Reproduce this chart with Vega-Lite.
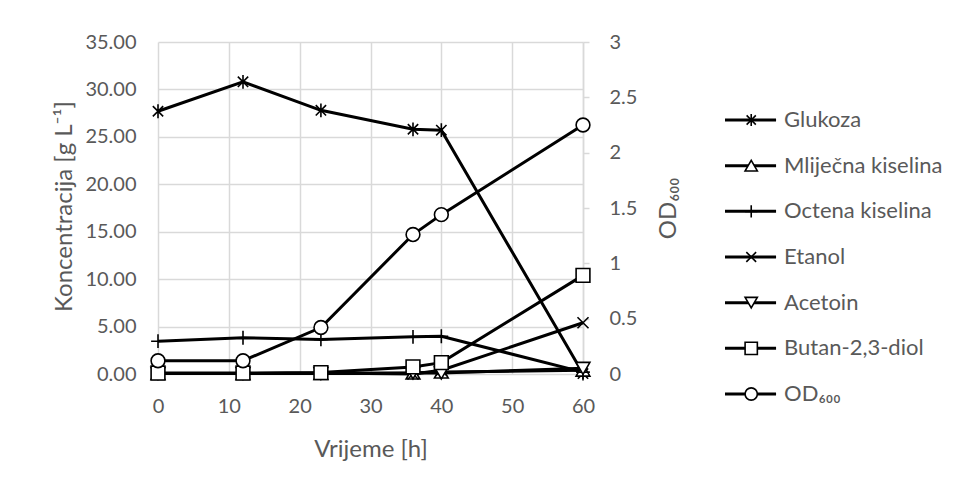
{
  "$schema": "https://vega.github.io/schema/vega-lite/v6.json",
  "background": "white",
  "padding": {"left": 52, "top": 32, "right": 5, "bottom": 5},
  "spacing": 42,
  "config": {
    "font": "Lato",
    "view": {"stroke": null},
    "axis": {"labelFontSize": 20, "labelColor": "#595959", "titleFontSize": 24, "titleFontWeight": "normal", "titleColor": "#595959", "gridColor": "#d9d9d9", "gridWidth": 1.5, "labelFont": "Lato", "titleFont": "Lato"}
  },
  "datasets": {
    "series": [
      {"t": 0, "series": "Glukoza", "value": 27.7},
      {"t": 12, "series": "Glukoza", "value": 30.8},
      {"t": 23, "series": "Glukoza", "value": 27.8},
      {"t": 36, "series": "Glukoza", "value": 25.8},
      {"t": 40, "series": "Glukoza", "value": 25.7},
      {"t": 60, "series": "Glukoza", "value": 0.05},
      {"t": 0, "series": "Mliječna kiselina", "value": 0.05},
      {"t": 12, "series": "Mliječna kiselina", "value": 0.05},
      {"t": 23, "series": "Mliječna kiselina", "value": 0.05},
      {"t": 36, "series": "Mliječna kiselina", "value": 0.1},
      {"t": 40, "series": "Mliječna kiselina", "value": 0.2},
      {"t": 60, "series": "Mliječna kiselina", "value": 0.4},
      {"t": 0, "series": "Octena kiselina", "value": 3.46},
      {"t": 12, "series": "Octena kiselina", "value": 3.82},
      {"t": 23, "series": "Octena kiselina", "value": 3.64},
      {"t": 36, "series": "Octena kiselina", "value": 3.92},
      {"t": 40, "series": "Octena kiselina", "value": 3.98},
      {"t": 60, "series": "Octena kiselina", "value": 0.2},
      {"t": 0, "series": "Etanol", "value": 0.05},
      {"t": 12, "series": "Etanol", "value": 0.05},
      {"t": 23, "series": "Etanol", "value": 0.1},
      {"t": 36, "series": "Etanol", "value": 0.0},
      {"t": 40, "series": "Etanol", "value": 0.4},
      {"t": 60, "series": "Etanol", "value": 5.4},
      {"t": 0, "series": "Acetoin", "value": 0.05},
      {"t": 12, "series": "Acetoin", "value": 0.05},
      {"t": 23, "series": "Acetoin", "value": 0.05},
      {"t": 36, "series": "Acetoin", "value": 0.1},
      {"t": 40, "series": "Acetoin", "value": 0.1},
      {"t": 60, "series": "Acetoin", "value": 0.6},
      {"t": 0, "series": "Butan-2,3-diol", "value": 0.1},
      {"t": 12, "series": "Butan-2,3-diol", "value": 0.1},
      {"t": 23, "series": "Butan-2,3-diol", "value": 0.15},
      {"t": 36, "series": "Butan-2,3-diol", "value": 0.75},
      {"t": 40, "series": "Butan-2,3-diol", "value": 1.2},
      {"t": 60, "series": "Butan-2,3-diol", "value": 10.4}
    ],
    "od": [
      {"t": 0, "series": "OD₆₀₀", "value": 0.12},
      {"t": 12, "series": "OD₆₀₀", "value": 0.12},
      {"t": 23, "series": "OD₆₀₀", "value": 0.42},
      {"t": 36, "series": "OD₆₀₀", "value": 1.26},
      {"t": 40, "series": "OD₆₀₀", "value": 1.44},
      {"t": 60, "series": "OD₆₀₀", "value": 2.25}
    ],
    "legend": [
      {"series": "Glukoza"},
      {"series": "Mliječna kiselina"},
      {"series": "Octena kiselina"},
      {"series": "Etanol"},
      {"series": "Acetoin"},
      {"series": "Butan-2,3-diol"},
      {"series": "OD₆₀₀"}
    ]
  },
  "hconcat": [
    {
      "width": 425,
      "height": 332,
      "layer": [
        {
          "data": {"name": "series"},
          "encoding": {
            "x": {"field": "t", "type": "quantitative", "scale": {"domain": [0, 60]}, "axis": {"values": [0, 10, 20, 30, 40, 50, 60], "title": "Vrijeme [h]", "domain": false, "ticks": false, "labelFlush": false, "labelPadding": 22, "titlePadding": 21}},
            "y": {"field": "value", "type": "quantitative", "scale": {"domain": [0, 35]}, "axis": {"values": [0, 5, 10, 15, 20, 25, 30, 35], "format": ".2f", "title": "Koncentracija [g L⁻¹]", "titleY": 164, "domain": false, "ticks": false, "labelPadding": 22, "titlePadding": 8}}
          },
          "layer": [
            {
              "mark": {"type": "line", "stroke": "black", "strokeWidth": 3},
              "encoding": {"detail": {"field": "series"}}
            },
            {
              "mark": {"type": "point", "filled": true, "fill": "white", "stroke": "black", "strokeWidth": 1.6, "size": 190, "opacity": 1},
              "encoding": {
                "shape": {"field": "series", "type": "nominal", "legend": null, "scale": {"domain": ["Glukoza", "Mliječna kiselina", "Octena kiselina", "Etanol", "Acetoin", "Butan-2,3-diol", "OD₆₀₀"], "range": ["M-0.75,-0.75L0.75,0.75M0.75,-0.75L-0.75,0.75M0,-1L0,1", "triangle-up", "M-1,0L1,0M0,-1L0,1", "M-0.8,-0.8L0.8,0.8M0.8,-0.8L-0.8,0.8", "triangle-down", "square", "circle"]}}
              }
            }
          ]
        },
        {
          "data": {"name": "od"},
          "encoding": {
            "x": {"field": "t", "type": "quantitative"},
            "y": {"field": "value", "type": "quantitative", "scale": {"domain": [0, 3]}, "axis": {"orient": "right", "values": [0, 0.5, 1, 1.5, 2, 2.5, 3], "format": "~g", "title": "OD₆₀₀", "titleAngle": 270, "grid": false, "domain": true, "domainColor": "#d9d9d9", "domainWidth": 1.5, "ticks": true, "tickColor": "#d9d9d9", "tickSize": 6, "tickWidth": 1.5, "labelPadding": 20, "titlePadding": 44}}
          },
          "layer": [
            {
              "mark": {"type": "line", "stroke": "black", "strokeWidth": 3}
            },
            {
              "mark": {"type": "point", "filled": true, "fill": "white", "stroke": "black", "strokeWidth": 1.6, "size": 190, "opacity": 1},
              "encoding": {
                "shape": {"field": "series", "type": "nominal", "legend": null}
              }
            }
          ]
        }
      ],
      "resolve": {"scale": {"y": "independent"}}
    },
    {
      "width": 230,
      "height": 360,
      "data": {"name": "legend"},
      "encoding": {
        "y": {"field": "series", "type": "nominal", "sort": null, "scale": {"type": "point", "padding": 0, "range": [78, 352]}, "axis": null}
      },
      "layer": [
        {
          "mark": {"type": "rule", "stroke": "black", "strokeWidth": 3},
          "encoding": {
            "x": {"datum": 0, "type": "quantitative", "scale": {"domain": [0, 10]}, "axis": null},
            "x2": {"datum": 2.22}
          }
        },
        {
          "mark": {"type": "point", "filled": true, "fill": "white", "stroke": "black", "strokeWidth": 1.6, "size": 150, "opacity": 1},
          "encoding": {
            "x": {"datum": 1.14, "type": "quantitative"},
            "shape": {"field": "series", "type": "nominal", "legend": null}
          }
        },
        {
          "mark": {"type": "text", "align": "left", "baseline": "middle", "fontSize": 22, "font": "Lato", "color": "#595959"},
          "encoding": {
            "x": {"datum": 2.57, "type": "quantitative"},
            "text": {"field": "series"}
          }
        }
      ]
    }
  ]
}
